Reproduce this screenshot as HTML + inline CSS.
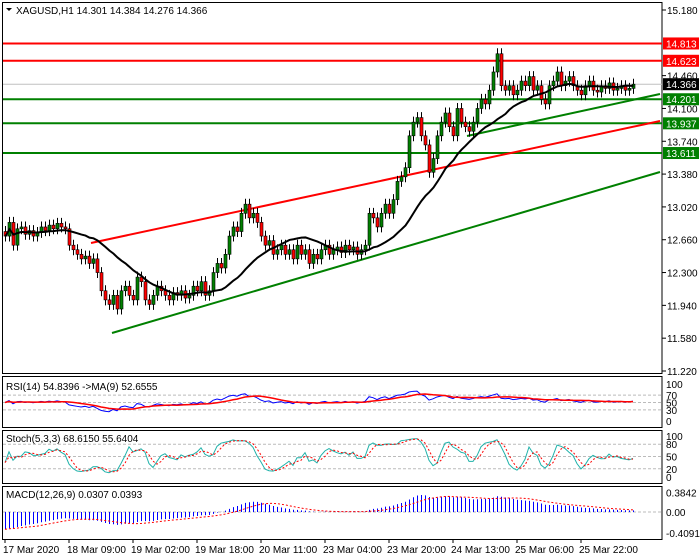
<!DOCTYPE html>
<html><head><meta charset="utf-8"><style>
body{margin:0;background:#fff;}
svg{display:block;font-family:"Liberation Sans",sans-serif;}
</style></head><body>
<svg id="c" width="700" height="560" viewBox="0 0 700 560"></svg>
<script>
const closes=[12.70,12.85,12.60,12.78,12.80,12.72,12.76,12.70,12.74,12.80,12.76,12.82,12.78,12.84,12.80,12.78,
12.60,12.55,12.50,12.45,12.48,12.40,12.45,12.30,12.10,12.00,
11.95,12.05,11.90,12.10,12.15,12.05,12.00,12.25,12.20,12.00,11.95,12.05,12.15,12.10,12.05,12.00,12.08,12.05,12.10,12.02,
12.05,12.15,12.10,12.20,12.05,12.10,12.30,12.40,12.35,12.50,12.70,12.80,12.75,12.95,13.05,
12.90,12.95,12.85,12.70,12.60,12.65,12.50,12.55,12.60,12.50,
12.55,12.45,12.60,12.50,12.55,12.40,12.50,12.45,12.55,12.60,12.50,12.55,12.58,12.52,12.60,12.55,12.58,12.50,12.55,12.60,
12.95,12.90,12.80,12.95,13.05,12.95,13.10,13.30,13.35,13.45,
13.80,13.95,14.00,13.80,13.70,13.40,
13.55,13.80,13.95,14.05,13.90,13.80,14.10,13.95,13.90,13.85,13.95,14.10,14.20,14.15,
14.30,14.50,14.70,14.35,14.30,
14.35,14.25,14.30,14.40,14.35,14.45,14.30,14.35,14.20,14.15,14.35,14.40,14.50,14.35,14.40,14.45,14.35,14.30,14.25,14.35,14.40,14.30,14.28,14.35,14.32,14.38,14.30,14.32,14.35,14.30,14.32,14.366];
const firstOpen=12.75;
const priceTicks=["15.180","14.460","14.100","13.740","13.380","13.020","12.660","12.300","11.940","11.580","11.220"];
const levels=[{p:14.813,c:"#ff0000"},{p:14.623,c:"#ff0000"},{p:14.201,c:"#008000"},{p:13.937,c:"#008000"},{p:13.611,c:"#008000"}];
const lastPrice=14.366;
const timeLabels=["17 Mar 2020","18 Mar 09:00","19 Mar 02:00","19 Mar 18:00","20 Mar 11:00","23 Mar 04:00","23 Mar 20:00","24 Mar 13:00","25 Mar 06:00","25 Mar 22:00"];
const timeLabelBars=[0,16,32,48,64,80,96,112,128,144];

const S=document.getElementById('c');const NS="http://www.w3.org/2000/svg";
function el(t,a,p){const e=document.createElementNS(NS,t);for(const k in a)e.setAttribute(k,a[k]);(p||S).appendChild(e);return e;}
const X=i=>5+i*4;
const Y=p=>10+(15.18-p)*91.16;
const AX=662;
// panels
[[2,2,373],[2,376,427],[2,430,483],[2,486,539]].forEach((r,k)=>{const b=el('rect',{x:2.5,y:r[1]+.5,width:AX-2.5,height:r[2]-r[1],fill:'none',stroke:'#000'});});
// price ticks
priceTicks.forEach(t=>{const y=Y(parseFloat(t));el('line',{x1:AX,x2:AX+4,y1:y,y2:y,stroke:'#000'});const tx=el('text',{x:AX+5,y:y+4,'font-size':10,fill:'#000'});tx.textContent=t;});
// levels
el('line',{x1:3,x2:AX,y1:Y(lastPrice),y2:Y(lastPrice),stroke:'#c0c0c0'});
levels.forEach(l=>{const y=Y(l.p);const ln=el('line',{x1:3,x2:AX,y1:y,y2:y,stroke:l.c,'stroke-width':2});});
// trendlines
[[91,243,660,121,'#ff0000'],[112,333,660,172,'#008000'],[467,136,660,94,'#008000']].forEach(t=>{const ln=el('line',{x1:t[0],y1:t[1],x2:t[2],y2:t[3],stroke:t[4],'stroke-width':2});});
// candles
const opens=closes.map((c,i)=>i?closes[i-1]:firstOpen);
const highs=closes.map((c,i)=>Math.max(c,opens[i])+0.06);
const lows=closes.map((c,i)=>Math.min(c,opens[i])-0.06);
const cg=el('g',{});
closes.forEach((c,i)=>{const o=opens[i],x=X(i);
el('line',{x1:x+.5,x2:x+.5,y1:Y(highs[i]),y2:Y(lows[i]),stroke:'#000'},cg);
const t=Math.min(Y(o),Y(c)),h=Math.max(1,Math.abs(Y(o)-Y(c)));
const r=el('rect',{x:x-1,y:t,width:3,height:h,fill:c>=o?'#008000':'#ff0000',stroke:'#000','stroke-width':.6},cg);
});
// SMA20
const ma=closes.map((c,i)=>{const s=closes.slice(Math.max(0,i-19),i+1);return s.reduce((a,b)=>a+b,0)/s.length;});
const mp=el('polyline',{points:ma.map((v,i)=>X(i)+.5+','+Y(v)).join(' '),fill:'none',stroke:'#000','stroke-width':2});

// price labels
levels.concat([{p:lastPrice,c:'#000'}]).forEach(l=>{const y=Y(l.p);el('rect',{x:AX+1,y:y-6,width:36,height:12,fill:l.c});const t=el('text',{x:AX+4,y:y+4,'font-size':10,fill:'#fff'});t.textContent=l.p.toFixed(3);});
const title=el('text',{x:16,y:14,'font-size':10,fill:'#000'});title.textContent='XAGUSD,H1  14.301 14.384 14.276 14.366';
el('path',{d:'M6 8 L12 8 L9 11 Z',fill:'#000'});
// RSI
const rsi=[];let ag=0,al=0;closes.forEach((c,i)=>{const d=i?c-closes[i-1]:0;const g=Math.max(d,0),l=Math.max(-d,0);if(i===0){ag=0.05;al=0.05;}else{ag=(ag*13+g)/14;al=(al*13+l)/14;}rsi.push(100-100/(1+ag/al));});
const rsiMa=rsi.map((v,i)=>{const s=rsi.slice(Math.max(0,i-8),i+1);return s.reduce((a,b)=>a+b,0)/s.length;});
const YR=v=>421-v*0.37;
[70,50,30].forEach(v=>el('line',{x1:3,x2:AX,y1:YR(v),y2:YR(v),stroke:'#bbb','stroke-dasharray':'3,2'}));
[100,70,50,30,0].forEach(v=>{const t=el('text',{x:AX+4,y:YR(v)+4,'font-size':10});t.textContent=v;});
let p=el('polyline',{points:rsi.map((v,i)=>X(i)+','+YR(v)).join(' '),fill:'none',stroke:'#0000ff'});
p=el('polyline',{points:rsiMa.map((v,i)=>X(i)+','+YR(v)).join(' '),fill:'none',stroke:'#ff0000','stroke-width':1.5});
let t=el('text',{x:6,y:390,'font-size':10});t.textContent='RSI(14) 54.8396  ->MA(9) 52.6555';
// Stoch
const kraw=closes.map((c,i)=>{let hh=-1e9,ll=1e9;for(let j=Math.max(0,i-4);j<=i;j++){hh=Math.max(hh,highs[j]);ll=Math.min(ll,lows[j]);}return {n:c-ll,d:hh-ll};});
const kk=kraw.map((v,i)=>{let n=0,d=0;for(let j=Math.max(0,i-2);j<=i;j++){n+=kraw[j].n;d+=kraw[j].d;}return 100*n/d;});
const dd=kk.map((v,i)=>{const s=kk.slice(Math.max(0,i-2),i+1);return s.reduce((a,b)=>a+b,0)/s.length;});
const YS=v=>477-v*0.41;
[80,50,20].forEach(v=>el('line',{x1:3,x2:AX,y1:YS(v),y2:YS(v),stroke:'#bbb','stroke-dasharray':'3,2'}));
[100,80,50,20,0].forEach(v=>{const t=el('text',{x:AX+4,y:YS(v)+4,'font-size':10});t.textContent=v;});
p=el('polyline',{points:kk.map((v,i)=>X(i)+','+YS(v)).join(' '),fill:'none',stroke:'#20b2aa'});
p=el('polyline',{points:dd.map((v,i)=>X(i)+','+YS(v)).join(' '),fill:'none',stroke:'#ff0000','stroke-dasharray':'2,2'});
t=el('text',{x:6,y:442,'font-size':10});t.textContent='Stoch(5,3,3) 68.6150 55.6404';
// MACD
let e12=12.9,e26=13.25;const macd=closes.map(c=>{e12+=(c-e12)*2/13;e26+=(c-e26)*2/27;return e12-e26;});
const sig=macd.map((v,i)=>{const s=macd.slice(Math.max(0,i-8),i+1);return s.reduce((a,b)=>a+b,0)/s.length;});
const YM=v=>512-v*51;
el('line',{x1:3,x2:AX,y1:YM(0),y2:YM(0),stroke:'#bbb','stroke-dasharray':'3,2'});
[["0.3842",0.3842],["0.00",0],["-0.4091",-0.4091]].forEach(a=>{const t=el('text',{x:AX+4,y:YM(a[1])+4,'font-size':10});t.textContent=a[0];});
macd.forEach((v,i)=>{const b=el('line',{x1:X(i)+.5,x2:X(i)+.5,y1:YM(0),y2:YM(v),stroke:'#0000ff'});});
p=el('polyline',{points:sig.map((v,i)=>X(i)+','+YM(v)).join(' '),fill:'none',stroke:'#ff0000','stroke-dasharray':'2,2'});
t=el('text',{x:6,y:498,'font-size':10});t.textContent='MACD(12,26,9) 0.0307 0.0393';
// time axis
timeLabels.forEach((l,k)=>{const x=X(timeLabelBars[k]);el('line',{x1:x,x2:x,y1:539,y2:543,stroke:'#000'});const t=el('text',{x:x-2,y:553,'font-size':10});t.textContent=l;});
</script>
</body></html>
